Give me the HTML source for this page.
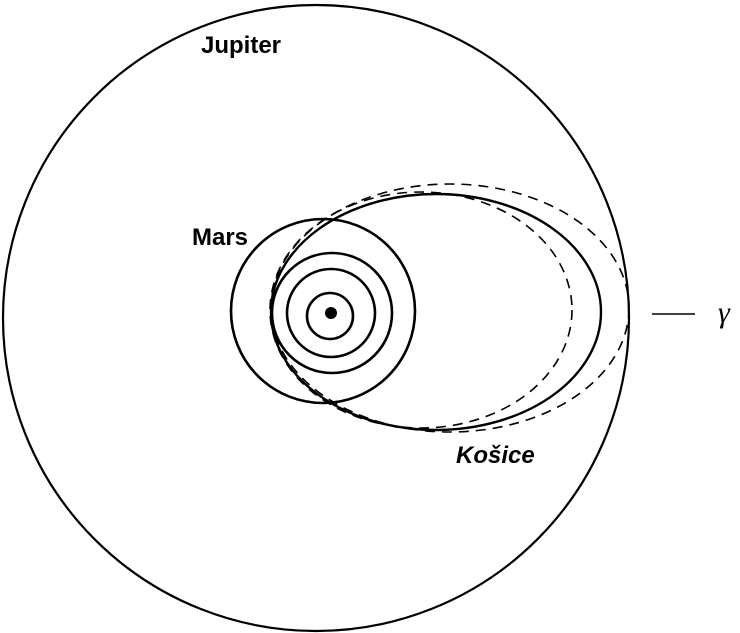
<!DOCTYPE html>
<html><head><style>
html,body{margin:0;padding:0;background:#fff;}
svg{display:block;}
text{font-family:"Liberation Sans",sans-serif;font-weight:bold;font-size:24px;fill:#000;}
</style></head><body>
<svg width="740" height="633" viewBox="0 0 740 633" xmlns="http://www.w3.org/2000/svg">
<g fill="none" stroke="#000">
<circle cx="316" cy="318" r="313" stroke-width="2.2"/>
<circle cx="323" cy="311" r="92" stroke-width="2.6"/>
<circle cx="332" cy="313" r="60" stroke-width="2.6"/>
<circle cx="331" cy="313" r="44" stroke-width="2.6"/>
<circle cx="330" cy="316" r="23" stroke-width="2.6"/>
<ellipse cx="436" cy="312" rx="165" ry="118" stroke-width="2.4"/>
<ellipse cx="450" cy="308" rx="179" ry="124" stroke-width="1.6" stroke-dasharray="10,7"/>
<ellipse cx="421" cy="310" rx="151" ry="118" stroke-width="1.6" stroke-dasharray="10,7"/>
<line x1="652" y1="314" x2="695" y2="314" stroke-width="1.6"/>
</g>
<circle cx="331" cy="313" r="6" fill="#000"/>
<text x="201" y="53">Jupiter</text>
<text x="192" y="245">Mars</text>
<text x="456" y="463" font-style="italic">Košice</text>
<text x="718" y="322" style="font-family:'Liberation Serif',serif;font-weight:normal;font-style:italic;font-size:30px">γ</text>
</svg>
</body></html>
